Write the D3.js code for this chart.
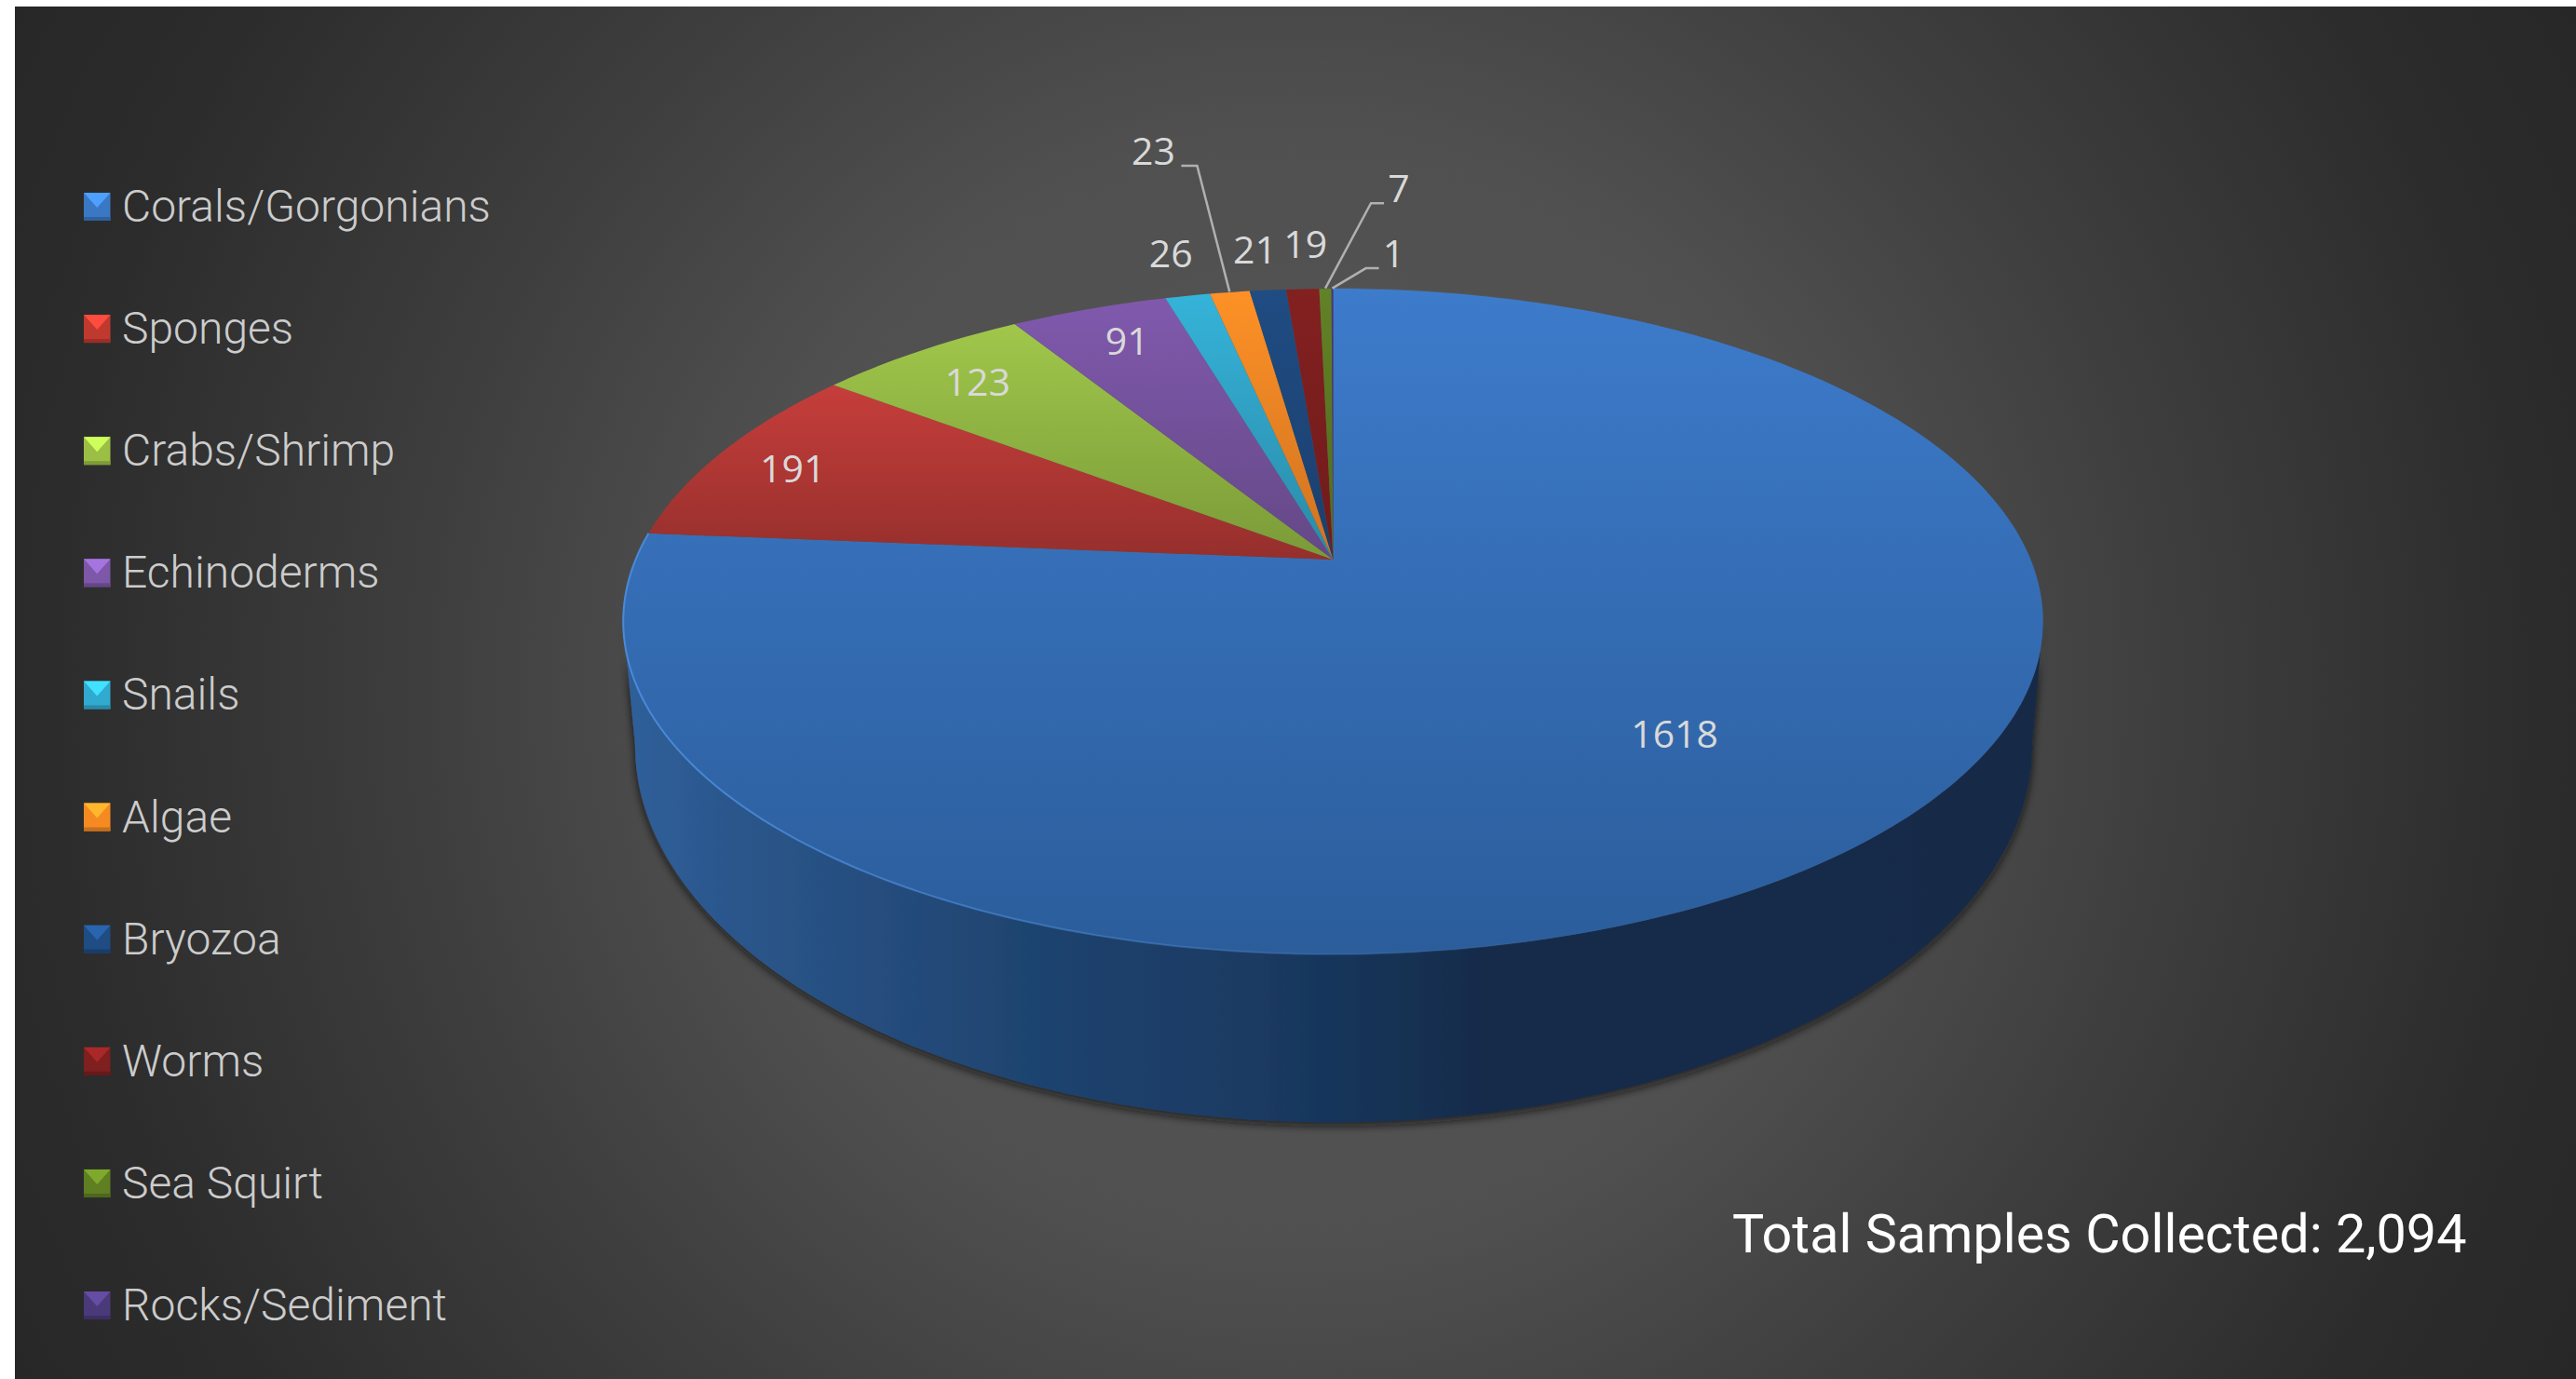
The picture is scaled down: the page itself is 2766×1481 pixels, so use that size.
<!DOCTYPE html>
<html>
<head>
<meta charset="utf-8">
<script src="https://cdn.jsdelivr.net/npm/d3@7"></script>
<style>
  html, body { margin: 0; padding: 0; background: #fff; overflow: hidden; }
  svg { display: block; }
</style>
</head>
<body>
<svg id="chart" width="2766" height="1481"></svg>
<script>
// chart data
const categories = ['Corals/Gorgonians', 'Sponges', 'Crabs/Shrimp', 'Echinoderms', 'Snails',
  'Algae', 'Bryozoa', 'Worms', 'Sea Squirt', 'Rocks/Sediment'];
const samples = [1618, 191, 123, 91, 26, 23, 21, 19, 7, 1];
const totalLabel = 'Total Samples Collected: 2,094';

// styles, one entry per category
const topColors = ['#3d7bcb', '#c63e3b', '#a0c74b', '#8059ad', '#35b3d9', '#fd9126', '#1f4c83', '#832020', '#628226', '#4a3780'];
const lowColors = ['#2b5d9b', '#952f2c', '#7a9a38', '#644886', '#2a8aa8', '#d07220', '#1c3f6d', '#701b1b', '#52691e', '#3e2e6a'];
const swatchColors = ['#3a78c4', '#c0392f', '#9bbf45', '#7d57a8', '#31aacf', '#f58a22', '#1f4c83', '#7f1f1f', '#5f7f22', '#4b3a7a'];

// label nudges from the slice's spot on the pie, [radius, dx, dy]
const labelSpots = [[0.62, 23, 19], [0.8, -49, 0], [0.8, -18, -3], [0.8, -5, -9], [1, -18, -42], [1, -82, -148], [1, -14, -40], [1, 3, -44], [1, 79, -104], [1, 66, -34]];
const leaderSlices = [5, 8, 9];

const width = 2766, height = 1481;
const svg = d3.select('#chart');
const defs = svg.append('defs');

// perspective for a tilted disc: the far half of the pie is squeezed, so the apex
// sits above the middle of the ellipse
const persp = 0.186;
const topDisc = { cx: 1431.5, cy: 601, a: 749, b: 345 };
const lowDisc = { cx: 1432, cy: 725, a: 737, b: 391 };

function project(disc, angle, r) {
  const u = Math.sin(angle) * r, v = Math.cos(angle) * r, w = 1 + persp * v;
  return [disc.cx + disc.a * u / w, disc.cy - disc.b * v / w];
}

const line = d3.line();
const arcs = d3.pie().sort(null).value(d => d)(samples);
const rimPoints = (disc, a0, a1) => d3.range(0, 1.0001, 1 / Math.max(2, Math.ceil(Math.abs(a1 - a0) * 60)))
  .map(t => project(disc, a0 + (a1 - a0) * t, 1));

// background
const bg = defs.append('radialGradient').attr('id', 'bg').attr('gradientUnits', 'userSpaceOnUse')
  .attr('cx', 1390).attr('cy', 740).attr('r', 1570);
[[0, '#565656'], [0.38, '#505050'], [0.6, '#3e3e3e'], [0.85, '#2c2c2c'], [1, '#272727']].forEach(s =>
  bg.append('stop').attr('offset', s[0]).attr('stop-color', s[1]));
svg.append('rect').attr('x', 16).attr('y', 7).attr('width', width - 16).attr('height', height - 7).attr('fill', 'url(#bg)');

// pie wall
const wallGrad = defs.append('linearGradient').attr('id', 'wall').attr('gradientUnits', 'userSpaceOnUse')
  .attr('x1', 670).attr('x2', 2190).attr('y1', 0).attr('y2', 0);
[[0, '#2f5f9a'], [0.1, '#2a5488'], [0.28, '#1f4470'], [0.45, '#1a3a62'], [0.61, '#152b4a'], [1, '#142a47']].forEach(s =>
  wallGrad.append('stop').attr('offset', s[0]).attr('stop-color', s[1]));

const shadow = defs.append('filter').attr('id', 'wallShadow')
  .attr('x', '-5%').attr('y', '-5%').attr('width', '110%').attr('height', '115%');
shadow.append('feDropShadow').attr('dx', 0).attr('dy', 4).attr('stdDeviation', 5)
  .attr('flood-color', '#111').attr('flood-opacity', 0.75);

// angles where the discs are widest, wall runs between them around the front
const edge = Math.asin(persp);
const rightAngle = Math.PI / 2 + edge, leftAngle = 3 * Math.PI / 2 - edge;
const wallPath = rimPoints(topDisc, rightAngle, leftAngle)
  .concat(rimPoints(lowDisc, leftAngle, rightAngle));
svg.append('path').attr('d', line(wallPath) + 'Z')
  .attr('fill', 'url(#wall)').attr('filter', 'url(#wallShadow)');

// pie top
arcs.forEach((d, i) => {
  const g = defs.append('linearGradient').attr('id', 'slice' + i).attr('x1', 0).attr('x2', 0).attr('y1', 0).attr('y2', 1);
  g.append('stop').attr('offset', 0).attr('stop-color', topColors[i]);
  g.append('stop').attr('offset', 1).attr('stop-color', lowColors[i]);
});
svg.append('g').selectAll('path').data(arcs).join('path')
  .attr('d', d => line([[topDisc.cx, topDisc.cy]].concat(rimPoints(topDisc, d.startAngle, d.endAngle))) + 'Z')
  .attr('fill', (d, i) => `url(#slice${i})`);

// light rim on the front edge, fades out to the right
const rimGrad = defs.append('linearGradient').attr('id', 'rim').attr('gradientUnits', 'userSpaceOnUse')
  .attr('x1', 670).attr('x2', 1700).attr('y1', 0).attr('y2', 0);
rimGrad.append('stop').attr('offset', 0).attr('stop-color', '#4a8ad8').attr('stop-opacity', 1);
rimGrad.append('stop').attr('offset', 1).attr('stop-color', '#4a8ad8').attr('stop-opacity', 0);
svg.append('path').attr('d', line(rimPoints(topDisc, arcs[0].startAngle, arcs[0].endAngle)))
  .attr('fill', 'none').attr('stroke', 'url(#rim)').attr('stroke-width', 2);

// data labels
const labelPos = arcs.map((d, i) => {
  const mid = (d.startAngle + d.endAngle) / 2;
  const s = labelSpots[i], p = project(topDisc, mid, s[0]);
  return [p[0] + s[1], p[1] + s[2]];
});
svg.append('g').selectAll('text').data(arcs).join('text')
  .attr('x', (d, i) => labelPos[i][0]).attr('y', (d, i) => labelPos[i][1])
  .attr('text-anchor', 'middle').attr('dominant-baseline', 'middle')
  .attr('font-family', '"Open Sans", sans-serif').attr('font-size', 41)
  .attr('fill', '#d9d9d9').text(d => d.value);

// leader lines
svg.append('g').selectAll('path').data(leaderSlices).join('path')
  .attr('d', i => {
    const d = arcs[i], mid = (d.startAngle + d.endAngle) / 2;
    const rim = project(topDisc, mid, 1.002), side = labelPos[i][0] < rim[0] ? 1 : -1;
    const y = labelPos[i][1] + 12, stub = labelPos[i][0] + side * (i === 5 ? 30 : 16);
    return line([[stub, y], [stub + side * (i === 5 ? 17 : 14), y], rim]);
  })
  .attr('fill', 'none').attr('stroke', '#b0b0b0').attr('stroke-width', 2.5);

// legend
const legendY = d3.scalePoint().domain(categories).range([222, 1402]);
const legend = svg.append('g').selectAll('g').data(categories).join('g')
  .attr('transform', d => `translate(90,${legendY(d)})`);
const sw = 28.5, sh = 15;
legend.append('rect').attr('y', -sh).attr('width', sw).attr('height', sh * 2)
  .attr('fill', (d, i) => swatchColors[i]);
legend.append('path')
  .attr('d', line([[0, -sh], [sw, -sh], [sw / 2, 1]]) + 'Z')
  .attr('fill', (d, i) => d3.color(swatchColors[i]).brighter(0.8));
legend.append('rect').attr('y', sh - 4).attr('width', sw).attr('height', 4)
  .attr('fill', (d, i) => d3.color(swatchColors[i]).darker(0.6));
legend.append('text').attr('x', 41).attr('y', 16)
  .attr('font-family', 'Roboto, sans-serif').attr('font-weight', 300).attr('font-size', 48)
  .attr('fill', '#cccccc').text(d => d);

// total note
svg.append('text').attr('x', 1860).attr('y', 1345)
  .attr('font-family', 'Roboto, sans-serif').attr('font-weight', 400).attr('font-size', 57.5)
  .attr('fill', '#fff').text(totalLabel);
</script>
</body>
</html>
